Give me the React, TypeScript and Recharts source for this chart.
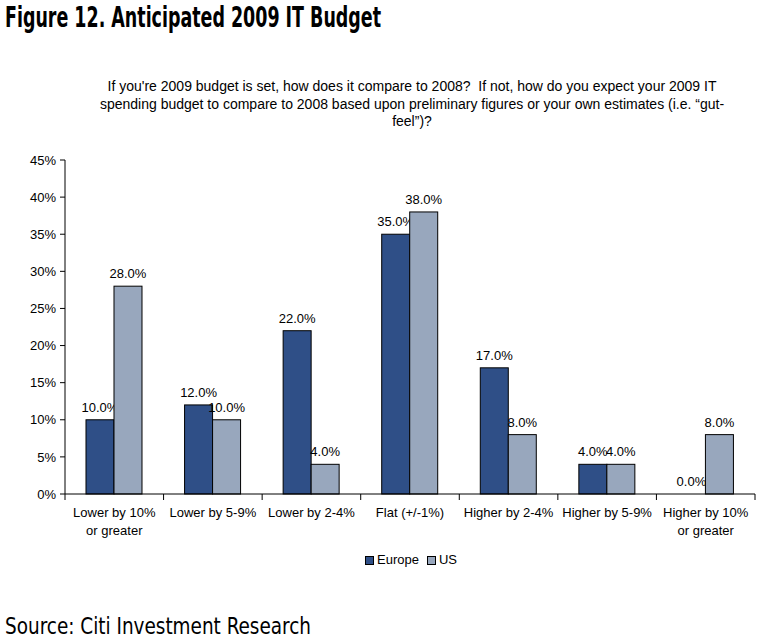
import React from "react";
import { BarChart, Bar, XAxis, YAxis } from "recharts";

// Survey categories (two-line axis labels)
const categories: string[][] = [
  ["Lower by 10%", "or greater"],
  ["Lower by 5-9%"],
  ["Lower by 2-4%"],
  ["Flat (+/-1%)"],
  ["Higher by 2-4%"],
  ["Higher by 5-9%"],
  ["Higher by 10%", "or greater"],
];

// Share of respondents (%)
const europeValues = [10, 12, 22, 35, 17, 4, 0];
const usValues = [28, 10, 4, 38, 8, 4, 8];

const yTicks = [0, 5, 10, 15, 20, 25, 30, 35, 40, 45];

const subtitleLines = [
  "If you're 2009 budget is set, how does it compare to 2008?  If not, how do you expect your 2009 IT",
  "spending budget to compare to 2008 based upon preliminary figures or your own estimates (i.e. \u201cgut-",
  "feel\u201d)?",
];

const data = categories.map((lines, i) => ({
  name: lines.join("\n"),
  Europe: europeValues[i],
  US: usValues[i],
}));

const W = 757;
const H = 644;
const X_AXIS_H = 30;
const MARGIN = { top: 160, right: 2, left: 0, bottom: 150 - X_AXIS_H };
const Y_AXIS_W = 65;
const BAND = (W - MARGIN.left - MARGIN.right - Y_AXIS_W) / categories.length;

const EUROPE_COLOR = "#2F4F87";
const US_COLOR = "#98A7BD";
const FONT = "'Liberation Sans', Arial, sans-serif";
const CONDENSED = "'DejaVu Sans Condensed', 'Liberation Sans Narrow', sans-serif";

const CategoryTick = (props: any) => {
  const { x, y, payload, index } = props;
  const lines: string[] = String(payload.value).split("\n");
  const isLast = index === categories.length - 1;
  return (
    <g>
      <line x1={x - BAND / 2} x2={x - BAND / 2} y1={y} y2={y + 6} stroke="#000" />
      {isLast && <line x1={x + BAND / 2} x2={x + BAND / 2} y1={y} y2={y + 6} stroke="#000" />}
      {lines.map((t, i) => (
        <text
          key={i}
          x={x}
          y={y + 23 + i * 18}
          textAnchor="middle"
          fontSize={13}
          fontFamily={FONT}
          fill="#000"
        >
          {t}
        </text>
      ))}
    </g>
  );
};

// Bar outline plus its value label above it (also drawn for zero-height bars)
const LabeledBar = (props: any) => {
  const { x, y, width, height, fill, value } = props;
  const v = Array.isArray(value) ? value[1] - value[0] : value;
  return (
    <g>
      {height > 0 && (
        <rect x={x} y={y} width={width} height={height} fill={fill} stroke="#000" strokeWidth={1} />
      )}
      <text
        x={x + width / 2}
        y={y - 8}
        textAnchor="middle"
        fontSize={13}
        fontFamily={FONT}
        fill="#000"
      >
        {`${Number(v).toFixed(1)}%`}
      </text>
    </g>
  );
};

export default function App() {
  return (
    <div style={{ position: "absolute", left: 0, top: 0, width: W, height: H, background: "#fff" }}>
      <BarChart
        width={W}
        height={H}
        data={data}
        margin={MARGIN}
        barCategoryGap="21.3%"
        barGap={0}
      >
        <XAxis
          dataKey="name"
          height={X_AXIS_H}
          interval={0}
          tickSize={0}
          tickMargin={0}
          tickLine={false}
          axisLine={{ stroke: "#000" }}
          tick={<CategoryTick />}
        />
        <YAxis
          width={Y_AXIS_W}
          domain={[0, 45]}
          ticks={yTicks}
          interval={0}
          tickFormatter={(v: number) => `${v}%`}
          tickSize={5}
          tickMargin={4}
          axisLine={{ stroke: "#000" }}
          tickLine={{ stroke: "#000" }}
          tick={{ fill: "#000", fontSize: 13, fontFamily: FONT }}
        />
        <Bar dataKey="Europe" fill={EUROPE_COLOR} shape={<LabeledBar />} isAnimationActive={false} />
        <Bar dataKey="US" fill={US_COLOR} shape={<LabeledBar />} isAnimationActive={false} />
      </BarChart>

      <svg width={W} height={H} style={{ position: "absolute", left: 0, top: 0, pointerEvents: "none" }}>
        <text x={5} y={27} fontSize={28} fontWeight="bold" fontFamily={CONDENSED} fill="#000" textLength={376} lengthAdjust="spacingAndGlyphs">
          Figure 12. Anticipated 2009 IT Budget
        </text>
        {subtitleLines.map((t, i) => (
          <text key={i} x={412} y={91 + i * 17.5} textAnchor="middle" fontSize={14} fontFamily={FONT} fill="#000" style={{ whiteSpace: "pre" }}>
            {t}
          </text>
        ))}
        <text x={5} y={634} fontSize={23} fontFamily={CONDENSED} fill="#000" textLength={306} lengthAdjust="spacingAndGlyphs">
          Source: Citi Investment Research
        </text>
      </svg>

      <div
        style={{
          position: "absolute",
          left: 365,
          top: 552,
          display: "flex",
          alignItems: "center",
          fontFamily: FONT,
          fontSize: 13,
          color: "#000",
          lineHeight: "16px",
        }}
      >
        <span style={{ width: 7, height: 7, background: EUROPE_COLOR, border: "1px solid #000", marginRight: 3 }} />
        <span style={{ marginRight: 8 }}>Europe</span>
        <span style={{ width: 7, height: 7, background: US_COLOR, border: "1px solid #000", marginRight: 3 }} />
        <span>US</span>
      </div>
    </div>
  );
}
